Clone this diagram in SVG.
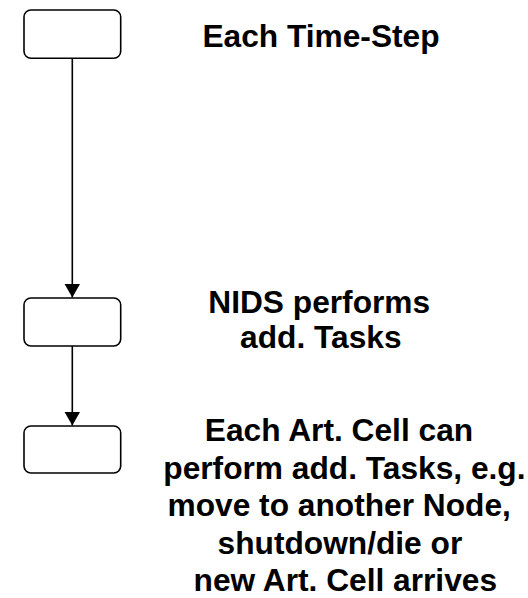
<svg xmlns="http://www.w3.org/2000/svg" width="528" height="598" viewBox="0 0 528 598">
  <style>
    .box { fill: #ffffff; stroke: #000000; stroke-width: 1.6; }
    .link { stroke: #000000; stroke-width: 1.6; fill: none; }
    .label { font-family: "Liberation Sans", Arial, sans-serif; font-weight: bold; font-size: 31.7px; fill: #000000; text-anchor: middle; }
  </style>
  <defs>
    <!-- arrowhead: 14 long along the line, 16 wide across it -->
    <marker id="arrow" viewBox="0 0 14 16" refX="14" refY="8" markerWidth="14" markerHeight="16" markerUnits="userSpaceOnUse" orient="auto">
      <path d="M0,0 L14,8 L0,16 Z" fill="#000000"/>
    </marker>
  </defs>
  <rect width="528" height="598" fill="#ffffff"/>

  <g id="connectors">
    <line class="link" x1="72.3" y1="58.3" x2="72.3" y2="297.5" marker-end="url(#arrow)"/>
    <line class="link" x1="72.3" y1="346" x2="72.3" y2="425.5" marker-end="url(#arrow)"/>
  </g>

  <g id="step">
    <rect class="box" x="24" y="10" width="96.7" height="48.3" rx="7"/>
    <text class="label" x="321" y="46.7">Each Time-Step</text>
  </g>

  <g id="nids">
    <rect class="box" x="24" y="298" width="96.7" height="48" rx="7"/>
    <text class="label" x="319.2" y="312.5">NIDS performs</text>
    <text class="label" x="320.8" y="348">add. Tasks</text>
  </g>

  <g id="cell">
    <rect class="box" x="24" y="426" width="96.7" height="47" rx="7"/>
    <text class="label" x="339" y="441">Each Art. Cell can</text>
    <text class="label" x="344.4" y="478.5">perform add. Tasks, e.g.</text>
    <text class="label" x="339.2" y="516">move to another Node,</text>
    <text class="label" x="339.9" y="553.5">shutdown/die or</text>
    <text class="label" x="345.3" y="591">new Art. Cell arrives</text>
  </g>
</svg>
